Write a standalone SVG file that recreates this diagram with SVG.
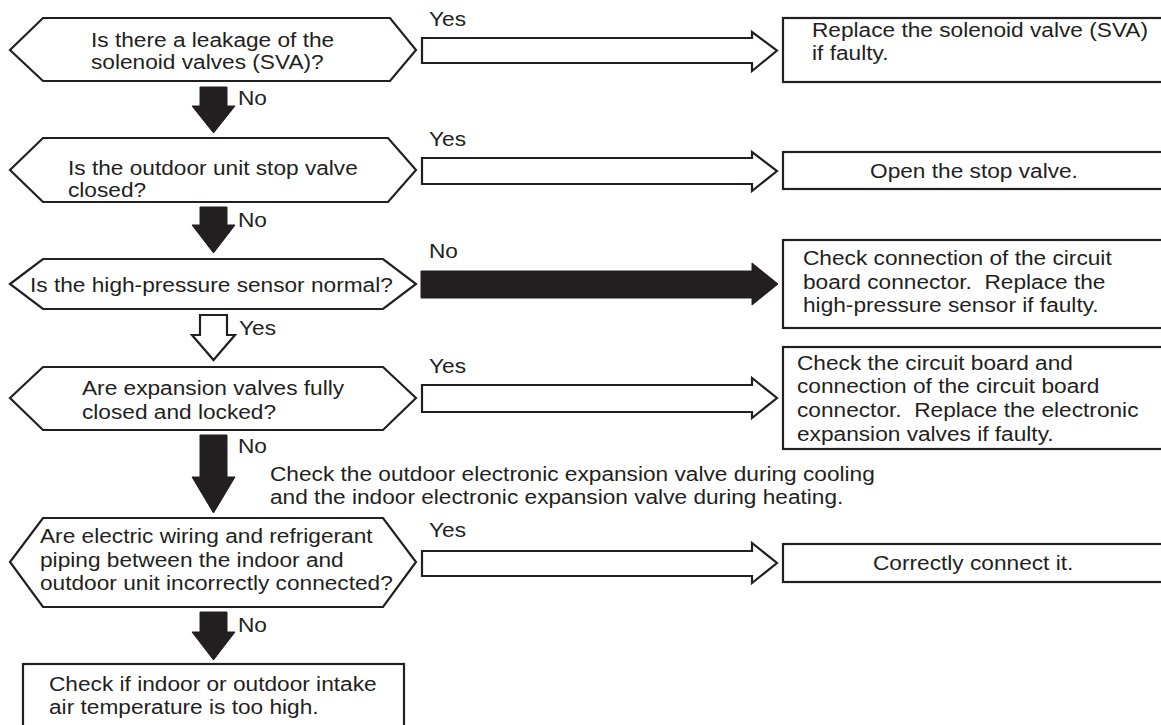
<svg xmlns="http://www.w3.org/2000/svg" width="1161" height="725" viewBox="0 0 1161 725">
<style>
.shape{fill:#fff;stroke:#231f20;stroke-width:2.2;stroke-linejoin:miter}
.black{fill:#231f20;stroke:#231f20;stroke-width:1}
.white{fill:#fff;stroke:#231f20;stroke-width:2.2}
text{font-family:"Liberation Sans",Arial,sans-serif;font-size:21px;fill:#231f20}
</style>
<rect width="1161" height="725" fill="#fff"/>
<g id="connectors">
  <polygon class="black" points="200,87 227,87 227,106 235,106 213.5,133 192,106 200,106"/>
  <text transform="translate(238 105) scale(1.08 1)">No</text>
  <polygon class="black" points="200,207 227,207 227,225 235,225 213.5,253 192,225 200,225"/>
  <text transform="translate(238 227) scale(1.08 1)">No</text>
  <polygon class="white" points="200,315 227,315 227,335 235,335 213.5,360 192,335 200,335"/>
  <text transform="translate(239 335) scale(1.08 1)">Yes</text>
  <polygon class="black" points="200,435 227,435 227,477 235,477 213.5,513 192,477 200,477"/>
  <text transform="translate(238 453) scale(1.08 1)">No</text>
  <polygon class="black" points="200,612 227,612 227,632 235,632 213.5,660 192,632 200,632"/>
  <text transform="translate(238 632) scale(1.08 1)">No</text>
  <polygon class="white" points="422,38 752,38 752,32 777,50.5 752,71 752,63 422,63"/>
  <text transform="translate(429 26) scale(1.08 1)">Yes</text>
  <polygon class="white" points="422,158 752,158 752,152 777,171 752,191 752,184 422,184"/>
  <text transform="translate(429 146) scale(1.08 1)">Yes</text>
  <polygon class="black" points="421,271 752,271 752,263 778,284 752,305 752,298 421,298"/>
  <text transform="translate(429 258) scale(1.08 1)">No</text>
  <polygon class="white" points="422,385 752,385 752,378 777,398 752,418 752,412 422,412"/>
  <text transform="translate(429 373) scale(1.08 1)">Yes</text>
  <polygon class="white" points="422,551 752,551 752,543 777,563 752,583 752,576 422,576"/>
  <text transform="translate(429 537) scale(1.08 1)">Yes</text>
  <text transform="translate(270 481) scale(1.08 1)">Check the outdoor electronic expansion valve during cooling</text>
  <text transform="translate(270 504) scale(1.08 1)">and the indoor electronic expansion valve during heating.</text>
</g>
<g id="q1">
  <polygon class="shape" points="10,50 43,18 390,18 416,50 390,81 43,81"/>
  <text transform="translate(91 47) scale(1.08 1)">Is there a leakage of the</text>
  <text transform="translate(91 69) scale(1.08 1)">solenoid valves (SVA)?</text>
</g>
<g id="q2">
  <polygon class="shape" points="10,170 43,138 388,138 416,170 388,202 43,202"/>
  <text transform="translate(68 175) scale(1.08 1)">Is the outdoor unit stop valve</text>
  <text transform="translate(68 197) scale(1.08 1)">closed?</text>
</g>
<g id="q3">
  <polygon class="shape" points="10,284 43,259 383,259 416,284 383,309 43,309"/>
  <text transform="translate(30 292) scale(1.08 1)">Is the high-pressure sensor normal?</text>
</g>
<g id="q4">
  <polygon class="shape" points="10,398 43,367 383,367 416,398 383,430 43,430"/>
  <text transform="translate(82 395) scale(1.08 1)">Are expansion valves fully</text>
  <text transform="translate(82 419) scale(1.08 1)">closed and locked?</text>
</g>
<g id="q5">
  <polygon class="shape" points="10,562 43,518 383,518 416,562 383,607 43,607"/>
  <text transform="translate(40 543) scale(1.08 1)">Are electric wiring and refrigerant</text>
  <text transform="translate(40 567) scale(1.08 1)">piping between the indoor and</text>
  <text transform="translate(40 590) scale(1.08 1)">outdoor unit incorrectly connected?</text>
</g>
<g id="a1">
  <rect class="shape" x="783" y="18" width="390" height="64"/>
  <text transform="translate(812 37) scale(1.08 1)">Replace the solenoid valve (SVA)</text>
  <text transform="translate(812 60) scale(1.08 1)">if faulty.</text>
</g>
<g id="a2">
  <rect class="shape" x="783" y="152" width="390" height="37"/>
  <text transform="translate(870 178) scale(1.08 1)">Open the stop valve.</text>
</g>
<g id="a3">
  <rect class="shape" x="783" y="240" width="390" height="88"/>
  <text transform="translate(803 265) scale(1.08 1)">Check connection of the circuit</text>
  <text transform="translate(803 289) scale(1.08 1)" xml:space="preserve">board connector.  Replace the</text>
  <text transform="translate(803 312) scale(1.08 1)">high-pressure sensor if faulty.</text>
</g>
<g id="a4">
  <rect class="shape" x="783" y="347" width="390" height="102"/>
  <text transform="translate(797 370) scale(1.08 1)">Check the circuit board and</text>
  <text transform="translate(797 393) scale(1.08 1)">connection of the circuit board</text>
  <text transform="translate(797 417) scale(1.08 1)" xml:space="preserve">connector.  Replace the electronic</text>
  <text transform="translate(797 441) scale(1.08 1)">expansion valves if faulty.</text>
</g>
<g id="a5">
  <rect class="shape" x="783" y="544" width="390" height="38"/>
  <text transform="translate(873 570) scale(1.08 1)">Correctly connect it.</text>
</g>
<g id="result">
  <rect class="shape" x="23" y="664" width="381" height="70"/>
  <text transform="translate(49 691) scale(1.08 1)">Check if indoor or outdoor intake</text>
  <text transform="translate(49 714) scale(1.08 1)">air temperature is too high.</text>
</g>
</svg>
